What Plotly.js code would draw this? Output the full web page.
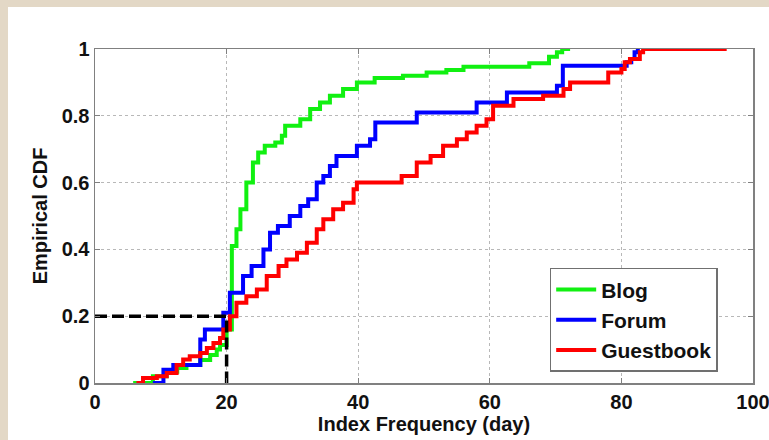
<!DOCTYPE html>
<html>
<head>
<meta charset="utf-8">
<script src="https://cdn.plot.ly/plotly-3.0.1.min.js"></script>
<style>
  html, body { margin: 0; padding: 0; background: #e3d8c6; width: 769px; height: 440px; overflow: hidden; }
  #chart { position: absolute; left: 8px; top: 7px; width: 761px; height: 433px; background: #ffffff; }
</style>
</head>
<body>
<div id="chart"></div>
<script>
// Series data (step points of each empirical CDF)
const blogX = [5.8, 8.8, 10.9, 12.5, 13.9, 16, 17.5, 18.5, 19, 20, 20.8, 21.5, 22.1, 23, 24, 24.8, 25.8, 27.4, 28.4, 28.9, 31.2, 32.7, 34.2, 35.7, 37.7, 39.8, 42.5, 46.8, 50.4, 53.4, 56, 66, 69, 70.2, 71, 72.2];
const blogY = [0, 0.02, 0.034, 0.045, 0.054, 0.069, 0.084, 0.10, 0.114, 0.16, 0.41, 0.46, 0.52, 0.60, 0.66, 0.69, 0.71, 0.72, 0.74, 0.77, 0.79, 0.82, 0.84, 0.86, 0.88, 0.90, 0.913, 0.92, 0.93, 0.937, 0.947, 0.957, 0.977, 0.99, 1.0, 1.0];

const forumX = [8.8, 10.4, 11.9, 16, 16.7, 19.5, 20.5, 22.5, 23.8, 25.6, 26.6, 27.8, 29.6, 31.2, 32.4, 33.7, 34.7, 35.7, 36.7, 39.8, 41.8, 42.6, 48.9, 58, 62.6, 70.2, 71.1, 80.8, 81.5, 82, 82.5];
const forumY = [0, 0.04, 0.054, 0.13, 0.16, 0.21, 0.27, 0.32, 0.35, 0.40, 0.45, 0.47, 0.50, 0.53, 0.55, 0.60, 0.62, 0.65, 0.68, 0.71, 0.73, 0.78, 0.81, 0.84, 0.87, 0.89, 0.95, 0.96, 0.97, 0.99, 1.0];

const guestX = [6.3, 7.3, 9.4, 10.9, 12.4, 13.4, 14.4, 16, 17, 18, 19, 19.5, 20.5, 21.5, 23, 24.6, 26.1, 27.9, 29.1, 30.7, 32.2, 33.7, 34.7, 36.2, 37.7, 39.3, 39.8, 46.6, 48.9, 51, 52.9, 55, 56.5, 58, 59.5, 60.5, 63.6, 68.1, 71.2, 72.2, 78, 80, 80.5, 81.3, 82.8, 83.3, 96];
const guestY = [0, 0.015, 0.02, 0.03, 0.054, 0.07, 0.08, 0.09, 0.105, 0.12, 0.135, 0.16, 0.20, 0.24, 0.26, 0.28, 0.32, 0.35, 0.37, 0.39, 0.42, 0.46, 0.49, 0.52, 0.54, 0.58, 0.60, 0.62, 0.66, 0.68, 0.71, 0.73, 0.75, 0.77, 0.79, 0.83, 0.85, 0.86, 0.88, 0.90, 0.93, 0.94, 0.96, 0.97, 0.99, 1.0, 1.0];

// Reference marker (20 days -> 0.2)
const refX = [0, 20, 20];
const refY = [0.2, 0.2, 0];

const seriesNames = ["Blog", "Forum", "Guestbook"];
const xTickVals = [0, 20, 40, 60, 80, 100];
const xTickText = ["0", "20", "40", "60", "80", "100"];
const yTickVals = [0, 0.2, 0.4, 0.6, 0.8, 1];
const yTickText = ["0", "0.2", "0.4", "0.6", "0.8", "1"];

const FONT = "Liberation Sans, Arial, sans-serif";

const traces = [
  {x: blogX, y: blogY, name: seriesNames[0], mode: "lines", line: {shape: "hv", color: "#11f011", width: 4}},
  {x: forumX, y: forumY, name: seriesNames[1], mode: "lines", line: {shape: "hv", color: "#0000ff", width: 4}},
  {x: guestX, y: guestY, name: seriesNames[2], mode: "lines", line: {shape: "hv", color: "#ff0000", width: 4}},
  {x: refX, y: refY, mode: "lines", showlegend: false, line: {color: "#000000", width: 3.5, dash: "12px,5px"}}
];

const axisCommon = {
  showline: true, linecolor: "#808080", linewidth: 1.5, mirror: "ticks",
  ticks: "inside", ticklen: 5, tickcolor: "#808080", tickwidth: 1.2,
  showgrid: true, gridcolor: "#b8b8b8", griddash: "dot", gridwidth: 1,
  zeroline: false, ticklabeloverflow: "allow",
  tickfont: {family: FONT, size: 20, color: "#111", weight: "bold"}
};

const layout = {
  width: 761, height: 433,
  margin: {l: 87, r: 16, t: 42, b: 57},
  paper_bgcolor: "#ffffff", plot_bgcolor: "#ffffff",
  showlegend: true,
  legend: {
    x: 0.691, y: 0.345, xanchor: "left", yanchor: "top",
    bgcolor: "#ffffff", bordercolor: "#707070", borderwidth: 1.5,
    font: {family: FONT, size: 21, color: "#111", weight: "bold"},
    tracegroupgap: 0, itemwidth: 40
  },
  xaxis: Object.assign({}, axisCommon, {
    range: [0, 100], tickvals: xTickVals, ticktext: xTickText,
    title: {text: "Index Frequency (day)", font: {family: FONT, size: 20, color: "#111", weight: "bold"}, standoff: 4}
  }),
  yaxis: Object.assign({}, axisCommon, {
    range: [0, 1], tickvals: yTickVals, ticktext: yTickText,
    title: {text: "Empirical CDF", font: {family: FONT, size: 20, color: "#111", weight: "bold"}, standoff: 8}
  })
};

Plotly.newPlot("chart", traces, layout, {displayModeBar: false, staticPlot: true});
</script>
</body>
</html>
